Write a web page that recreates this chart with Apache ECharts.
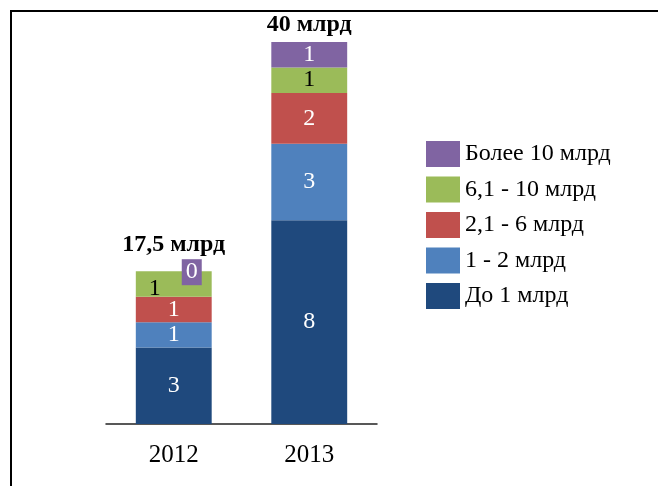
<!DOCTYPE html>
<html>
<head>
<meta charset="utf-8">
<script src="https://cdn.jsdelivr.net/npm/echarts@6/dist/echarts.min.js"></script>
<style>
  html, body { margin: 0; padding: 0; background: #fff; }
  #chart { width: 658px; height: 486px; }
</style>
</head>
<body>
<div id="chart"></div>
<script>
// данные
const years = ['2012', '2013']
const seriesNames = ['До 1 млрд', '1 - 2 млрд', '2,1 - 6 млрд', '6,1 - 10 млрд', 'Более 10 млрд']
const colors = ['#1F497D', '#4F81BD', '#C0504D', '#9BBB59', '#8064A2']
const upTo1 = [3, 8]
const from1to2 = [1, 3]
const from2to6 = [1, 2]
const from6to10 = [1, 1]
const over10 = [0, 1]
const totals = ['17,5 млрд', '40 млрд']

const values = [upTo1, from1to2, from2to6, from6to10, over10]
const font = 'Liberation Serif'

const chart = echarts.init(document.getElementById('chart'))

const series = values.map((vals, i) => ({
  name: seriesNames[i],
  type: 'bar',
  stack: 'total',
  barWidth: '56%',
  itemStyle: { color: colors[i] },
  label: {
    show: true,
    position: 'inside',
    color: i === 3 ? '#000' : '#fff',
    fontFamily: font,
    fontSize: 24
  },
  data: vals.map((v, j) => {
    const item = { value: v }
    // 2012: метка «1» зелёного сегмента сдвинута влево
    if (i === 3 && j === 0) item.label = { offset: [-19, 5] }
    // 2012: нулевое значение — фиолетовая плашка
    if (i === 4 && j === 0) {
      item.label = {
        offset: [18, 1],
        backgroundColor: colors[4],
        lineHeight: 24,
        padding: [1, 4, 1, 4]
      }
    }
    return item
  })
}))

// подписи итогов над столбцами
series.push({
  name: 'total',
  type: 'bar',
  stack: 'total',
  barWidth: '56%',
  silent: true,
  itemStyle: { color: 'transparent' },
  label: {
    show: true,
    position: 'top',
    color: '#000',
    fontFamily: font,
    fontSize: 24,
    fontWeight: 'bold',
    formatter: p => totals[p.dataIndex]
  },
  data: [
    { value: 0, label: { distance: 14 } },
    { value: 0, label: { distance: 5 } }
  ]
})

chart.setOption({
  backgroundColor: '#fff',
  animation: false,
  graphic: [{
    type: 'rect',
    shape: { x: 11, y: 11, width: 700, height: 600 },
    style: { fill: 'none', stroke: '#000', lineWidth: 2 }
  }],
  legend: {
    orient: 'vertical',
    left: 421,
    top: 136,
    itemWidth: 34,
    itemHeight: 26,
    itemGap: 9.5,
    icon: 'rect',
    data: seriesNames.slice().reverse(),
    textStyle: { fontFamily: font, fontSize: 24, color: '#000' }
  },
  grid: { left: 106, top: 42, width: 271, bottom: 62 },
  xAxis: {
    type: 'category',
    data: years,
    axisLine: { lineStyle: { color: '#222', width: 1.5 } },
    axisTick: { show: false },
    axisLabel: { color: '#000', fontFamily: font, fontSize: 25, margin: 19 }
  },
  yAxis: {
    type: 'value',
    min: 0,
    max: 15,
    show: false
  },
  series: series
})
</script>
</body>
</html>
